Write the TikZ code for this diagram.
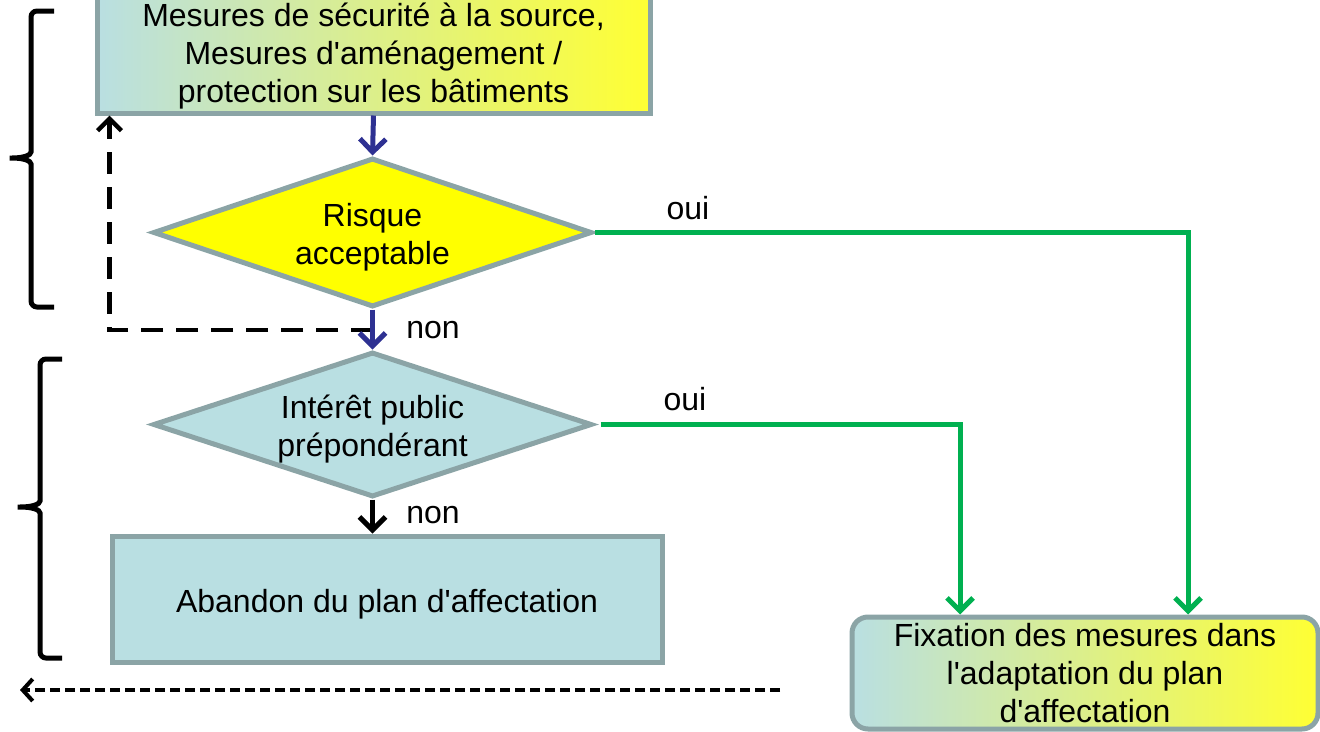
\documentclass[tikz,border=0pt]{standalone}
\usepackage{fontspec}
\setmainfont[Ligatures=TeXOff]{Liberation Sans}
\usetikzlibrary{shapes.geometric,arrows.meta}
\definecolor{cbox}{HTML}{B9DFE2}
\definecolor{cborder}{HTML}{8BA4A6}
\definecolor{cyel}{HTML}{FFFF00}
\definecolor{cnavy}{HTML}{2E3192}
\definecolor{cgreen}{HTML}{00B050}
\definecolor{cmid}{HTML}{E3F0A2}
\definecolor{cyeltwo}{HTML}{FFFF33}
\newcommand\tstrut{\rule{0pt}{33pt}}
\newcommand\sstrut{\rule{0pt}{28pt}}
\begin{document}
\begin{tikzpicture}[x=1pt,y=-1pt,
  every node/.style={font=\fontsize{32}{38}\selectfont},
  boxst/.style={draw=cborder, line width=5pt, inner sep=0pt, align=center},
  gradbox/.style={boxst, left color=cbox, middle color=cmid, right color=cyeltwo},
  diam/.style={boxst, diamond, shape aspect=3},
  arr/.style={line width=5pt, -{Straight Barb[length=13pt,width=26pt]}},
  lbl/.style={inner sep=0pt},
  bracest/.style={line width=5pt, rounded corners=6pt},
]
\useasboundingbox (0,0) rectangle (1320,731);
\clip (0,0) rectangle (1320,731);

% boxes
\node[gradbox, minimum width=553pt, minimum height=118pt] (top) at (373.5,54)
  {\sstrut Mesures de sécurité à la source,\\Mesures d'aménagement /\\protection sur les bâtiments};
\node[diam, fill=cyel, minimum width=439pt, minimum height=149pt] (d1) at (372.5,232.5)
  {\tstrut Risque\\acceptable};
\node[diam, fill=cbox, minimum width=439pt, minimum height=145pt] (d2) at (372.5,424.5)
  {\tstrut Intérêt public\\prépondérant};
\node[boxst, fill=cbox, minimum width=550pt, minimum height=126pt] (ab) at (387,599)
  {\tstrut Abandon du plan d'affectation};
\node[gradbox, rounded corners=16pt, minimum width=466pt, minimum height=112pt] (fix) at (1085,673)
  {Fixation des mesures dans\\l'adaptation du plan\\d'affectation};

% loop back (dashed)
\coordinate (lp) at (373,330);
\draw[black, line width=4.5pt, dash pattern=on 22pt off 13pt, -{Straight Barb[length=12pt,width=24pt]}]
  (lp) -| ([xshift=15pt]top.south west);

% connectors
\draw[arr, cnavy] (top.south) -- (d1.north);
\draw[arr, cnavy] (d1.south) -- (d2.north);
\draw[arr, black] (d2.south) -- (d2.south |- ab.north);
\draw[arr, cgreen] (d1.east) -| ([xshift=103pt]fix.north);
\draw[arr, cgreen] ([xshift=6pt]d2.east) -| ([xshift=-125pt]fix.north);

% labels
\node[lbl] (oui1) at (688,208) {oui};
\node[lbl] (non1) at (433,330) {non};
\node[lbl] (oui2) at (685,399) {oui};
\node[lbl] (non2) at (433,515) {non};

% braces
\draw[bracest] (54,11) -- (31,11) -- (31,146)
  .. controls (31,155) and (24,158) .. (6,158)
  .. controls (24,158) and (31,161) .. (31,170) -- (31,307) -- (54,307);
\draw[bracest] (62,359) -- (40,359) -- (40,495)
  .. controls (40,504) and (33,507) .. (14,507)
  .. controls (33,507) and (40,510) .. (40,519) -- (40,658) -- (62,658);

% bottom dashed arrow
\coordinate (bd1) at (780,690);
\coordinate (bd2) at (20,690);
\draw[line width=4pt, dash pattern=on 10pt off 5pt, -{Straight Barb[length=10pt,width=22pt]}] (bd1) -- (bd2);
\end{tikzpicture}
\end{document}
